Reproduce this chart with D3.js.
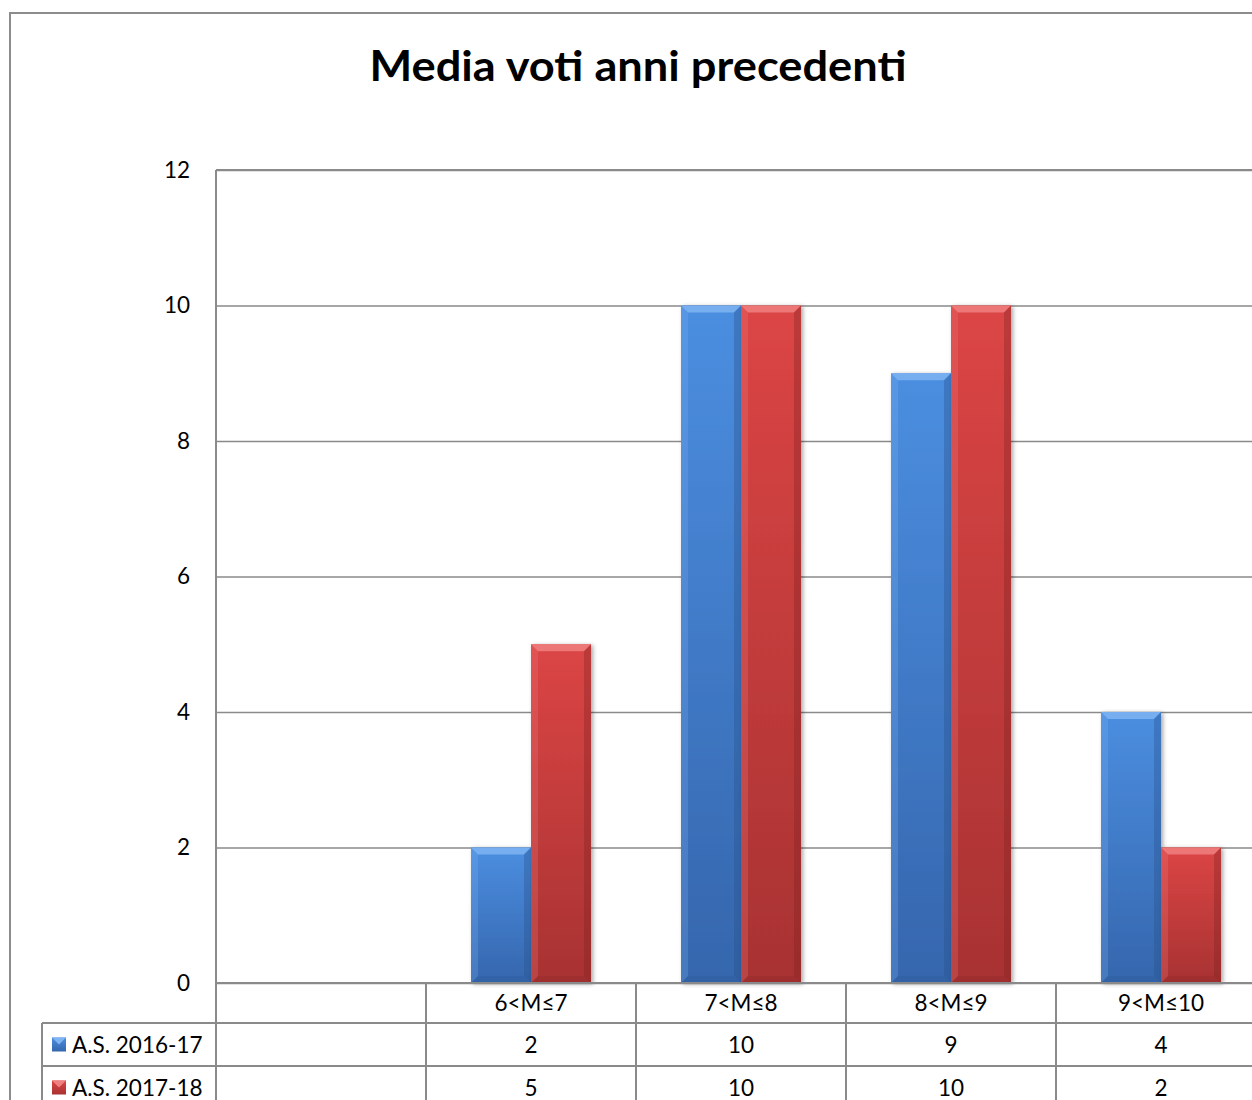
<!DOCTYPE html>
<html>
<head>
<meta charset="utf-8">
<title>Media voti anni precedenti</title>
<script src="https://cdn.jsdelivr.net/npm/d3@7"></script>
<style>
  body { margin: 0; background: #fff; }
  text { font-family: Lato, Carlito, "Liberation Sans", sans-serif; }
</style>
</head>
<body>
<svg width="1252" height="1100"></svg>
<script>
// dati
const categories = ['', '6<M≤7', '7<M≤8', '8<M≤9', '9<M≤10']
const seriesNames = ['A.S. 2016-17', 'A.S. 2017-18']
const values2016 = [null, 2, 10, 9, 4]
const values2017 = [null, 5, 10, 10, 2]
const yTicks = [0, 2, 4, 6, 8, 10, 12]

const series = [
  { name: seriesNames[0], values: values2016, top: '#4b8ee0', bottom: '#3566ad', light: '#7fb4f2', dark: '#28508a' },
  { name: seriesNames[1], values: values2017, top: '#dc4545', bottom: '#a83232', light: '#f08080', dark: '#7f2222' }
]

const svg = d3.select('svg')
const plot = { left: 216, top: 170, bottom: 983 }
const rowH = [40, 43, 43]
const gridColor = '#8a8a8a'
const fs = 22.5

const x0 = d3.scaleBand().domain(categories.map((d, i) => i)).range([plot.left, plot.left + 210 * categories.length]).paddingInner(0)
const x1 = d3.scaleBand().domain([0, 1]).range([0, x0.bandwidth()]).paddingInner(0).paddingOuter(0.75)
const y = d3.scaleLinear().domain([0, 12]).range([plot.bottom, plot.top])

// gradienti
const defs = svg.append('defs')
series.forEach((s, i) => {
  const g = defs.append('linearGradient').attr('id', 'grad' + i).attr('x1', 0).attr('y1', 0).attr('x2', 0).attr('y2', 1)
  g.append('stop').attr('offset', '0%').attr('stop-color', s.top)
  g.append('stop').attr('offset', '100%').attr('stop-color', s.bottom)
})
const f = defs.append('filter').attr('id', 'shadow').attr('x', '-20%').attr('y', '-5%').attr('width', '150%').attr('height', '115%')
f.append('feDropShadow').attr('dx', 2).attr('dy', 1).attr('stdDeviation', 2).attr('flood-color', '#000').attr('flood-opacity', 0.35)

// bordo esterno
svg.append('rect').attr('x', 10).attr('y', 13).attr('width', 1300).attr('height', 1200)
  .attr('fill', 'none').attr('stroke', '#8c8c8c').attr('stroke-width', 2)

// titolo
svg.append('text').attr('x', 638).attr('y', 81).attr('text-anchor', 'middle')
  .attr('font-size', 42).attr('font-weight', 'bold').attr('fill', '#000')
  .attr('textLength', 537).attr('lengthAdjust', 'spacingAndGlyphs')
  .text('Media voti anni precedenti')

// griglia e asse y
const yAxis = d3.axisLeft(y).tickValues(yTicks).tickSize(-(1252 - plot.left)).tickPadding(26)
const gy = svg.append('g').attr('transform', `translate(${plot.left},0)`).call(yAxis)
gy.select('.domain').remove()
gy.selectAll('.tick line').attr('stroke', gridColor).attr('stroke-width', 1.5)
gy.selectAll('.tick text').attr('font-size', fs).attr('fill', '#000').attr('font-family', 'Lato, sans-serif')

// barre
const bars = svg.append('g')
series.forEach((s, si) => {
  s.values.forEach((v, ci) => {
    if (v == null) return
    const x = x0(ci) + x1(si)
    const w = x1.bandwidth()
    const yt = y(v)
    const h = y(0) - yt
    const b = 7
    const g = bars.append('g')
    g.append('rect').attr('x', x).attr('y', yt).attr('width', w).attr('height', h)
      .attr('fill', `url(#grad${si})`).attr('filter', 'url(#shadow)')
    g.append('polygon').attr('points', [[x, yt], [x + w, yt], [x + w - b, yt + b], [x + b, yt + b]].join(' '))
      .attr('fill', s.light).attr('opacity', 0.85)
    g.append('polygon').attr('points', [[x, yt], [x + b, yt + b], [x + b, yt + h - b], [x, yt + h]].join(' '))
      .attr('fill', s.light).attr('opacity', 0.25)
    g.append('polygon').attr('points', [[x + w, yt], [x + w - b, yt + b], [x + w - b, yt + h - b], [x + w, yt + h]].join(' '))
      .attr('fill', s.dark).attr('opacity', 0.35)
    g.append('polygon').attr('points', [[x, yt + h], [x + b, yt + h - b], [x + w - b, yt + h - b], [x + w, yt + h]].join(' '))
      .attr('fill', s.dark).attr('opacity', 0.2)
  })
})

// tabella dati
const table = svg.append('g')
const rowTop = [plot.bottom, plot.bottom + rowH[0], plot.bottom + rowH[0] + rowH[1]]
const tableBottom = rowTop[2] + rowH[2]
const line = (x1_, y1_, x2_, y2_) => table.append('line')
  .attr('x1', x1_).attr('y1', y1_).attr('x2', x2_).attr('y2', y2_)
  .attr('stroke', gridColor).attr('stroke-width', 2)

line(plot.left, plot.top, plot.left, tableBottom)
line(plot.left, plot.top, 1252, plot.top)
line(plot.left, plot.bottom, 1252, plot.bottom)
line(42, rowTop[1], 1252, rowTop[1])
line(42, rowTop[2], 1252, rowTop[2])
line(42, rowTop[1], 42, tableBottom)
categories.forEach((c, i) => {
  if (i > 0) line(x0(i), plot.bottom, x0(i), tableBottom)
})

const cx = i => x0(i) + x0.bandwidth() / 2
table.selectAll('.cat').data(categories).join('text')
  .attr('x', (d, i) => cx(i)).attr('y', rowTop[0] + rowH[0] / 2 + 8)
  .attr('text-anchor', 'middle').attr('font-size', fs).text(d => d)

series.forEach((s, si) => {
  const ty = rowTop[si + 1] + rowH[si + 1] / 2 + 8
  table.append('g').selectAll('text').data(s.values).join('text')
    .attr('x', (d, i) => cx(i)).attr('y', ty)
    .attr('text-anchor', 'middle').attr('font-size', fs).text(d => d == null ? '' : d)
  // chiave legenda
  const kx = 52, ky = ty - 15, ks = 14
  table.append('rect').attr('x', kx).attr('y', ky).attr('width', ks).attr('height', ks).attr('fill', `url(#grad${si})`)
  table.append('polygon').attr('points', [[kx, ky], [kx + ks, ky], [kx + ks / 2, ky + ks / 2]].join(' ')).attr('fill', s.light)
  table.append('text').attr('x', 72).attr('y', ty).attr('font-size', fs).text(s.name)
})
</script>
</body>
</html>
